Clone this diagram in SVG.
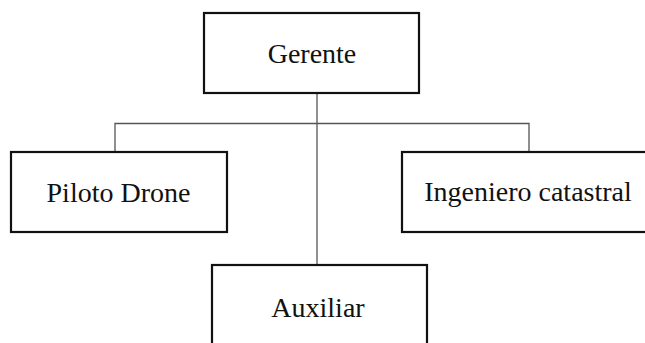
<svg xmlns="http://www.w3.org/2000/svg" width="645" height="343" viewBox="0 0 645 343">
<style>
.box{fill:#fff;stroke:#111;stroke-width:2.2}
.lbl{font-family:"Liberation Serif","Times New Roman",serif;font-size:28px;fill:#111;text-anchor:middle}
.conn{fill:none;stroke:#555;stroke-width:1.3}
</style>
<rect width="645" height="343" fill="#fff"/>
<g id="connectors">
<line class="conn" x1="317" y1="93" x2="317" y2="265"/>
<polyline class="conn" points="115,152 115,123.5 529,123.5 529,152"/>
</g>
<g id="gerente">
<rect class="box" x="204" y="13" width="215" height="80"/>
<text class="lbl" x="312" y="63">Gerente</text>
</g>
<g id="piloto">
<rect class="box" x="11" y="152" width="216" height="80"/>
<text class="lbl" x="118.5" y="202">Piloto Drone</text>
</g>
<g id="ingeniero">
<rect class="box" x="402" y="152" width="260" height="80"/>
<text class="lbl" x="528" y="201">Ingeniero catastral</text>
</g>
<g id="auxiliar">
<rect class="box" x="212" y="265" width="215" height="100"/>
<text class="lbl" x="318" y="317">Auxiliar</text>
</g>
</svg>
